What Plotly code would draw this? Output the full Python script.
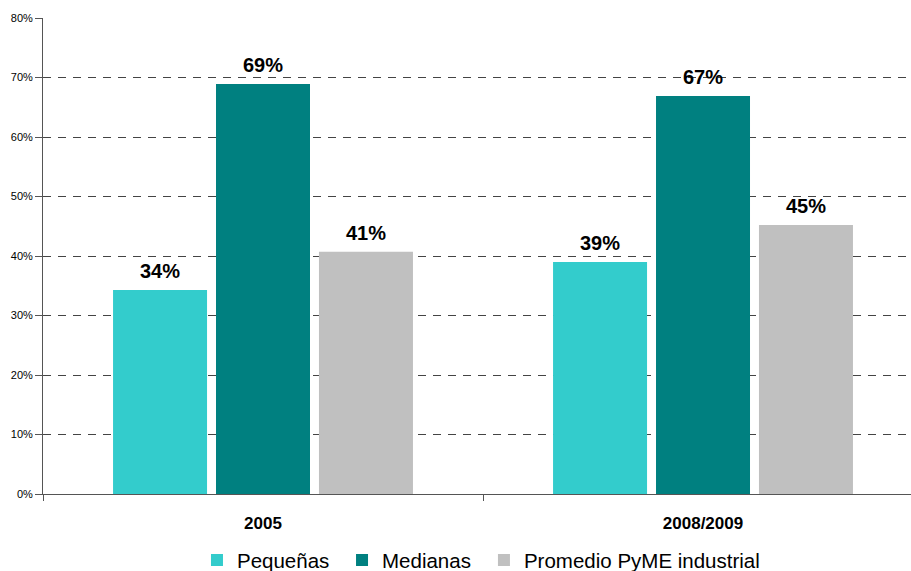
import plotly.graph_objects as go

categories = ["2005", "2008/2009"]
series_names = ["Pequeñas", "Medianas", "Promedio PyME industrial"]
pequenas = [34.3, 39.0]
medianas = [68.9, 66.9]
promedio = [40.7, 45.2]
labels_pequenas = ["34%", "39%"]
labels_medianas = ["69%", "67%"]
labels_promedio = ["41%", "45%"]
y_ticks = [0, 10, 20, 30, 40, 50, 60, 70, 80]
y_tick_labels = ["0%", "10%", "20%", "30%", "40%", "50%", "60%", "70%", "80%"]

colors = ["#33CCCC", "#008080", "#C0C0C0"]
FONT = "Arial, Liberation Sans, sans-serif"
legend_ids = ["legend", "legend2", "legend3"]
legend_x = [0.1774, 0.3445, 0.508]

fig = go.Figure()
series = [pequenas, medianas, promedio]
labels = [labels_pequenas, labels_medianas, labels_promedio]
for name, vals, col, lid in zip(series_names, series, colors, legend_ids):
    fig.add_trace(go.Bar(name=name, x=categories, y=vals, marker=dict(color=col, line=dict(width=0)),
                         hoverinfo="skip", legend=lid))

shifts = [-103, 0, 103]
for vals, labs, sh in zip(series, labels, shifts):
    for i, (v, t) in enumerate(zip(vals, labs)):
        fig.add_annotation(x=i, y=v, text=f"<b>{t}</b>", showarrow=False, xshift=sh, yshift=6,
                           yanchor="bottom", font=dict(family=FONT, size=20, color="#000000"))

legend_common = dict(orientation="h", xanchor="left", y=-0.139, yanchor="middle",
                     font=dict(family=FONT, size=20.5, color="#000000"),
                     itemclick=False, itemdoubleclick=False, bgcolor="rgba(0,0,0,0)")

fig.update_layout(
    width=911, height=571,
    margin=dict(l=43, r=0, t=18, b=77, autoexpand=False),
    paper_bgcolor="white", plot_bgcolor="white",
    barmode="group", bargap=0.298, bargroupgap=0.087,
    font=dict(family=FONT, color="#000000"),
    showlegend=True,
    legend=dict(x=legend_x[0], **legend_common),
    legend2=dict(x=legend_x[1], **legend_common),
    legend3=dict(x=legend_x[2], **legend_common),
    xaxis=dict(type="category", range=[-0.5, 1.4727], showline=True, linecolor="#555555", linewidth=1,
               ticks="outside", tickson="boundaries", ticklen=6, tickcolor="#555555",
               tickfont=dict(family=FONT, size=17, color="#000000"),
               tickvals=categories, ticktext=[f"<b>{c}</b>" for c in categories],
               ticklabelstandoff=14, showgrid=False, zeroline=False, automargin=False),
    yaxis=dict(range=[0, 80], tickvals=y_ticks, ticktext=y_tick_labels, showline=True, linecolor="#555555",
               linewidth=1, ticks="outside", ticklen=7, tickcolor="#555555",
               tickfont=dict(family=FONT, size=11, color="#000000"),
               showgrid=True, gridcolor="#444444", gridwidth=1, griddash="8px,7px",
               zeroline=False, automargin=False),
)

fig.write_html("out.html", config={"displayModeBar": False, "staticPlot": False},
               post_script="document.body.style.margin='0';document.body.style.overflow='hidden';")
